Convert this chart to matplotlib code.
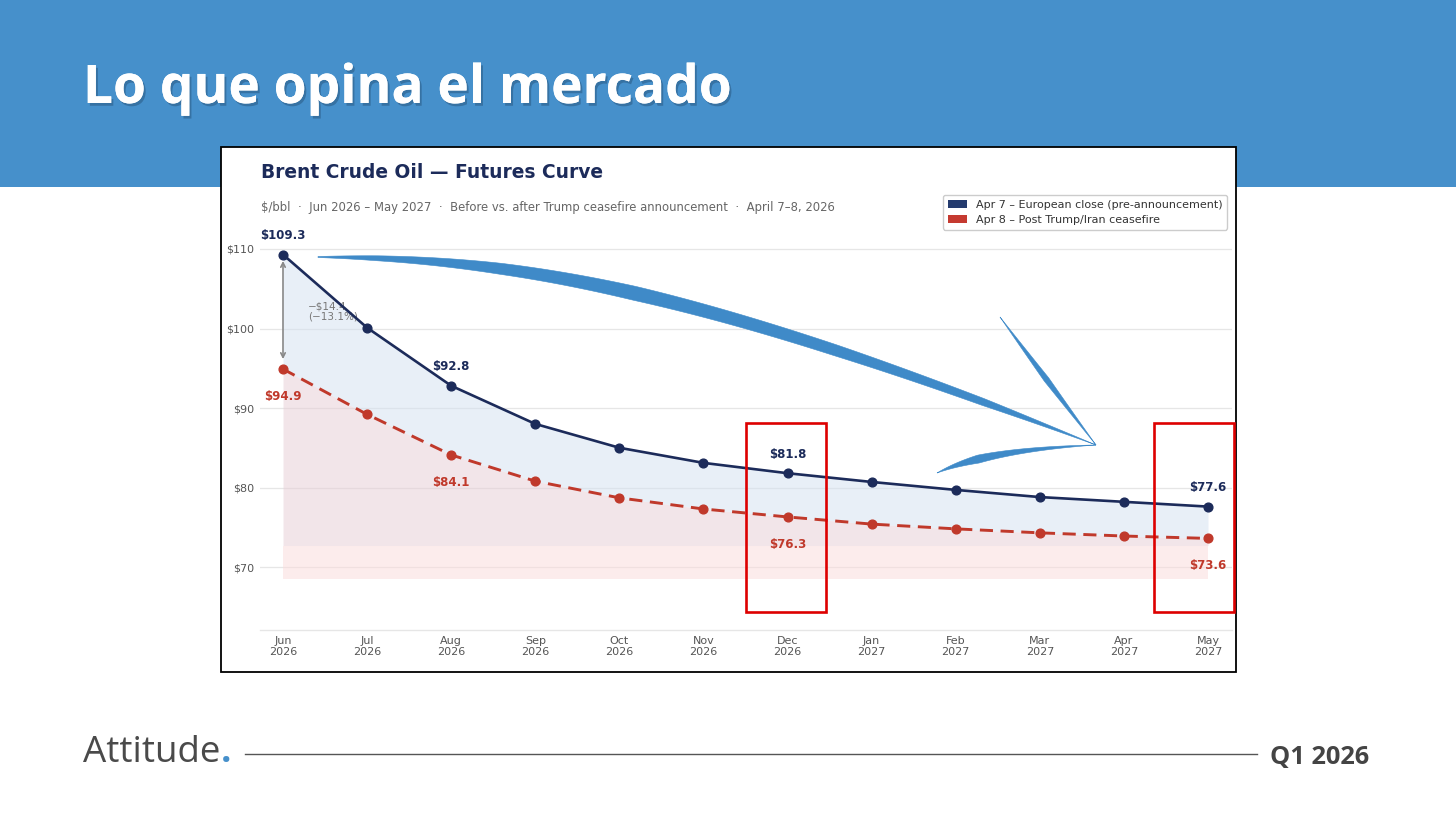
import numpy as np
import matplotlib
matplotlib.use("Agg")
import matplotlib.pyplot as plt
from matplotlib.patches import Rectangle, Polygon, Patch
from matplotlib.transforms import Affine2D
import matplotlib.patheffects as pe

# ---------------- data ----------------
months = ["Jun\n2026", "Jul\n2026", "Aug\n2026", "Sep\n2026", "Oct\n2026", "Nov\n2026",
          "Dec\n2026", "Jan\n2027", "Feb\n2027", "Mar\n2027", "Apr\n2027", "May\n2027"]
pre_announcement = [109.3, 100.1, 92.8, 88.0, 85.0, 83.1, 81.8, 80.7, 79.7, 78.8, 78.2, 77.6]
post_ceasefire = [94.9, 89.2, 84.1, 80.8, 78.7, 77.3, 76.3, 75.4, 74.8, 74.3, 73.9, 73.6]
labeled_idx = [0, 2, 6, 11]
y_ticks = [70, 80, 90, 100, 110]
band_top = 72.7
band_floor = 68.5
legend_labels = ["Apr 7 \u2013 European close (pre-announcement)", "Apr 8 \u2013 Post Trump/Iran ceasefire"]

NAVY = "#1c2b5a"
RED = "#c0392b"
HEADER = "#4690cb"

W, H = 1456, 819
fig = plt.figure(figsize=(W / 100, H / 100), dpi=100)
fig.patch.set_facecolor("white")
T = Affine2D().scale(1 / W, -1 / H).translate(0, 1) + fig.transFigure


def fx(x):
    return x / W


def fy(y):
    return 1 - y / H


# header band
fig.add_artist(Rectangle((0, 0), W, 187, transform=T, facecolor=HEADER, edgecolor="none", zorder=-3))
fig.text(fx(83), fy(103), "Lo que opina el mercado", color="white", fontsize=38.3, fontweight="bold",
         family="Open Sans", ha="left", va="baseline", zorder=10,
         path_effects=[pe.withSimplePatchShadow(offset=(1.5, -2), shadow_rgbFace="#1a3a5a", alpha=0.35),
                       pe.Normal()])

# chart card
fig.add_artist(Rectangle((221, 147), 1015, 525, transform=T, facecolor="white", edgecolor="black",
                         linewidth=1.3, zorder=-2))
fig.text(fx(261), fy(172), "Brent Crude Oil \u2014 Futures Curve", color=NAVY, fontsize=13.4,
         fontweight="bold", ha="left", va="center")
fig.text(fx(261), fy(207),
         "\\$/bbl  \u00b7  Jun 2026 \u2013 May 2027  \u00b7  Before vs. after Trump ceasefire announcement  \u00b7  April 7\u20138, 2026",
         color="#666666", fontsize=8.4, ha="left", va="center")

# axes
ax = fig.add_axes([fx(260), fy(630), (1232 - 260) / W, (630 - 190) / H])
ax.patch.set_visible(False)
x = np.arange(len(months))
ax.set_xlim(-0.2735, 11.285)
ax.set_ylim(62.08, 117.42)

ax.fill_between(x, pre_announcement, post_ceasefire, color=(211 / 255, 225 / 255, 241 / 255), alpha=0.5,
                linewidth=0, zorder=1)
ax.fill_between(x, post_ceasefire, band_top, color=(231 / 255, 205 / 255, 213 / 255), alpha=0.5,
                linewidth=0, zorder=1)
ax.fill_between(x, band_top, band_floor, color=(251 / 255, 219 / 255, 219 / 255), alpha=0.5,
                linewidth=0, zorder=1)

ax.plot(x, pre_announcement, color=NAVY, lw=1.9, marker="o", ms=6.3, zorder=4)
ax.plot(x, post_ceasefire, color=RED, lw=2.1, ls=(0, (4.5, 2.6)), marker="o", ms=6.3, zorder=4)

for i in labeled_idx:
    ax.annotate(f"\\${pre_announcement[i]:.1f}", (x[i], pre_announcement[i]), xytext=(0, 13.5),
                textcoords="offset points", ha="center", va="center", fontsize=8.5,
                fontweight="bold", color=NAVY, zorder=6)
    ax.annotate(f"\\${post_ceasefire[i]:.1f}", (x[i], post_ceasefire[i]), xytext=(0, -19.5),
                textcoords="offset points", ha="center", va="center", fontsize=8.5,
                fontweight="bold", color=RED, zorder=6)

gap = pre_announcement[0] - post_ceasefire[0]
ax.annotate("", xy=(x[0], post_ceasefire[0] + 0.9), xytext=(x[0], pre_announcement[0] - 0.45),
            arrowprops=dict(arrowstyle="<->", color="#888888", lw=1.2, mutation_scale=8), zorder=2)
ax.text(x[0] + 0.3, (pre_announcement[0] + post_ceasefire[0]) / 2 + 0.05,
        f"\u2212\\${gap:.1f}\n(\u221213.1%)", color="#777777", fontsize=7.5, ha="left", va="center",
        linespacing=1.05, zorder=2)

ax.set_yticks(y_ticks)
ax.set_yticklabels([f"\\${v}" for v in y_ticks])
ax.set_xticks(x)
ax.set_xticklabels(months)
ax.tick_params(axis="both", length=0, labelsize=8, colors="#555555")
ax.tick_params(axis="y", pad=4)
ax.tick_params(axis="x", pad=4)
ax.grid(axis="y", color="#e6e6e6", lw=0.9)
ax.set_axisbelow(True)
for s in ["top", "right", "left"]:
    ax.spines[s].set_visible(False)
ax.spines["bottom"].set_color("#e6e6e6")
ax.spines["bottom"].set_linewidth(1.0)

handles = [Patch(facecolor="#243b6e", edgecolor="none"), Patch(facecolor="#c53a30", edgecolor="none")]
leg = ax.legend(handles, legend_labels, loc="upper right", bbox_to_anchor=(fx(1233), fy(189)),
                bbox_transform=fig.transFigure, fontsize=8.0, frameon=True, edgecolor="#cccccc",
                fancybox=True, handlelength=1.7, handleheight=0.75, borderpad=0.45, labelspacing=0.45,
                handletextpad=0.8, framealpha=1)
for t in leg.get_texts():
    t.set_color("#333333")

# red highlight boxes
for (x0, x1) in [(746, 826), (1154, 1234)]:
    fig.add_artist(Rectangle((x0, 423), x1 - x0, 189, transform=T, facecolor="none",
                             edgecolor="#dd0000", linewidth=1.9, zorder=7))

# hand-drawn blue arrow
ARROW = "#3f8ac8"


def band(P, knots_t, knots_w, n=200):
    t = np.linspace(0, 1, n)[:, None]
    P = [np.array(p, float) for p in P]
    if len(P) == 4:
        B = ((1 - t) ** 3) * P[0] + 3 * ((1 - t) ** 2) * t * P[1] + 3 * (1 - t) * t ** 2 * P[2] + t ** 3 * P[3]
    else:
        B = ((1 - t) ** 2) * P[0] + 2 * (1 - t) * t * P[1] + t ** 2 * P[2]
    d = np.gradient(B, axis=0)
    nrm = np.stack([-d[:, 1], d[:, 0]], axis=1)
    nrm /= np.linalg.norm(nrm, axis=1)[:, None]
    w = np.interp(t[:, 0], knots_t, knots_w)[:, None] / 2
    return np.vstack([B + nrm * w, (B - nrm * w)[::-1]])


main = band([(318, 257), (520, 258), (700, 290), (1096, 445)],
            [0, 0.1, 0.3, 0.5, 0.75, 0.9, 1.0], [1, 5, 11, 14, 11, 7, 0])
spike1 = band([(1000, 317), (1045, 378), (1096, 445)], [0, 0.5, 1], [0, 5.5, 0])
spike2 = band([(937, 473), (985, 450), (1096, 445)], [0, 0.35, 1], [0, 8, 0])
for poly in (main, spike1, spike2):
    fig.add_artist(Polygon(poly, closed=True, transform=T, facecolor=ARROW, edgecolor=ARROW,
                           linewidth=0.4, zorder=8))

# footer
att = fig.text(fx(83), fy(762), "Attitude", color="#4a4a4a", fontsize=26.5, family="Open Sans",
               fontweight=500, ha="left", va="baseline")
fig.canvas.draw()
bb = att.get_window_extent(renderer=fig.canvas.get_renderer())
fig.text(bb.x1 / W + 1 / W, fy(762), ".", color=HEADER, fontsize=26.5, family="Open Sans",
         fontweight="bold", ha="left", va="baseline")
fig.add_artist(plt.Line2D([fx(245), fx(1257)], [fy(754), fy(754)], color="#555555", lw=1.0))
fig.text(fx(1270), fy(764), "Q1 2026", color="#444444", fontsize=18.3, family="Open Sans",
         fontweight="bold", ha="left", va="baseline")

fig.savefig("out.png", dpi=100)
